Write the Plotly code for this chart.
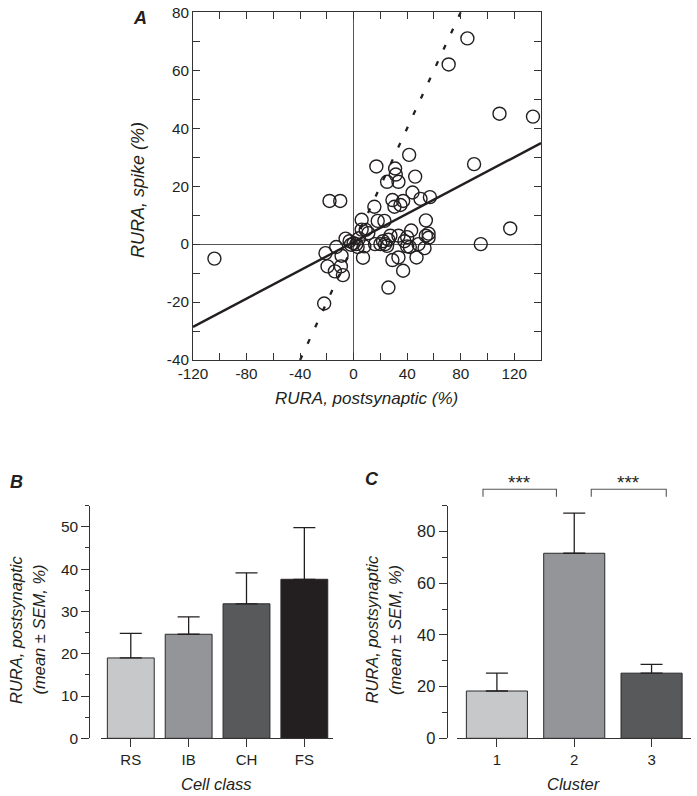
import plotly.graph_objects as go

# ---------------- Panel A data: RURA postsynaptic (%) vs RURA spike (%) ----------------
post_rura = [85, 71, 109, 134, 90, 95, 117, -104, 41.5, 17, 31, 46, 25, 33.5, 44, 50, 57,
             29, 37, 30.5, 15.5, -18, -10, 54, 18, 23, 6, 9, 11, 43, 56, 56, 27.5, 33.5,
             40, -6, 0, -2, 2, 8, 16, 20, 23.5, 25, 40, 48.5, 53, -13, -21, -9, 7, 33.5,
             29, 47, -19.5, -9.5, -14, -8, 37, 26, -22, 4, 6, -3, 3, 22, 26, 38, 42,
             31.5, 35, 54]
spike_rura = [71, 62, 45, 44, 27.6, 0, 5.4, -5, 30.8, 26.8, 26.1, 23.3, 21.5, 21.5, 17.8,
              15.6, 16.2, 15.2, 14.9, 12.9, 12.9, 14.9, 14.9, 8.2, 8, 8, 8.4, 4.9, 3.8,
              4.7, 3.6, 2.2, 2.9, 2.9, 2.4, 1.9, 0.3, -0.2, 0, -0.8, 0, 0, 0, -0.6, -0.8,
              0, -1.4, -1, -3.1, -4, -4.7, -4.6, -5.5, -4.6, -7.7, -7.7, -9.4, -10.7,
              -9.2, -15, -20.5, 2, 5, 1, -1, 1, 1.5, 1, -1, 24, 13.5, 2.9]
fit_slope = 0.244        # solid regression line
fit_intercept = 0.7
identity_slope = 1.0     # dashed line (y = x)
identity_intercept = 0.0
xa_ticks = [-120, -80, -40, 0, 40, 80, 120]
xa_ticktext = ["-120", "-80", "-40", "0", "40", "80", "120"]
ya_ticks = [-40, -20, 0, 20, 40, 60, 80]
ya_ticktext = ["-40", "-20", "0", "20", "40", "60", "80"]

# ---------------- Panel B data ----------------
cell_classes = ["RS", "IB", "CH", "FS"]
class_mean = [19.0, 24.6, 31.8, 37.6]
class_sem = [5.8, 4.1, 7.3, 12.2]
class_colors = ["#c7c8ca", "#939598", "#58595b", "#231f20"]

# ---------------- Panel C data ----------------
clusters = ["1", "2", "3"]
cluster_mean = [18.3, 71.6, 25.2]
cluster_sem = [6.9, 15.5, 3.4]
cluster_colors = ["#c7c8ca", "#939598", "#58595b"]
sig_pairs = [(0, 1), (1, 2)]
sig_labels = ["***", "***"]
sig_offsets = [(-0.18, -0.23), (0.22, 0.19)]   # bracket insets (style)

FONT = "Liberation Sans, Arial, Helvetica, sans-serif"
INK = "#231f20"
AX = "#333333"

fig = go.Figure()

# ---- Panel A ----
xa_range = [-120, 140]
ya_range = [-40, 80]
fig.add_trace(go.Scatter(
    x=xa_range,
    y=[fit_slope * v + fit_intercept for v in xa_range],
    mode="lines", line=dict(color=INK, width=2.4),
    xaxis="x", yaxis="y", hoverinfo="skip"))
id_x = [ya_range[0], ya_range[1]]
fig.add_trace(go.Scatter(
    x=id_x,
    y=[identity_slope * v + identity_intercept for v in id_x],
    mode="lines", line=dict(color=INK, width=2.3, dash="5px,13px"),
    xaxis="x", yaxis="y", hoverinfo="skip"))
fig.add_trace(go.Scatter(
    x=post_rura, y=spike_rura, mode="markers",
    marker=dict(symbol="circle-open", size=13, color=INK, line=dict(width=1.4)),
    cliponaxis=False, xaxis="x", yaxis="y"))

# ---- Panel B ----
fig.add_trace(go.Bar(
    x=cell_classes, y=class_mean, width=0.81,
    marker=dict(color=class_colors, line=dict(color="#2a2a2a", width=1)),
    error_y=dict(type="data", array=class_sem, arrayminus=[0] * len(class_sem),
                 symmetric=False, color=INK, thickness=1.3, width=11),
    xaxis="x2", yaxis="y2"))

# ---- Panel C ----
fig.add_trace(go.Bar(
    x=clusters, y=cluster_mean, width=0.79,
    marker=dict(color=cluster_colors, line=dict(color="#2a2a2a", width=1)),
    error_y=dict(type="data", array=cluster_sem, arrayminus=[0] * len(cluster_sem),
                 symmetric=False, color=INK, thickness=1.3, width=11),
    xaxis="x3", yaxis="y3"))

shapes = []
annotations = []
for (i, j), lab, (o0, o1) in zip(sig_pairs, sig_labels, sig_offsets):
    x0, x1 = i + o0, j + o1
    shapes.append(dict(type="path", xref="x3", yref="y3 domain",
                       path=f"M {x0},1.0387 L {x0},1.0705 L {x1},1.0705 L {x1},1.0387",
                       line=dict(color="#555555", width=1.1)))
    annotations.append(dict(text=lab, xref="x3", yref="y3 domain", x=(x0 + x1) / 2,
                            y=1.0705, yanchor="bottom", xanchor="center", showarrow=False,
                            yshift=-6, font=dict(size=19, color=INK, family=FONT)))

def ann(text, x, y, size, angle=0):
    annotations.append(dict(text=text, xref="paper", yref="paper", x=x, y=y,
                            xanchor="center", yanchor="middle", showarrow=False,
                            textangle=angle, font=dict(size=size, color=INK, family=FONT)))

# panel letters
ann("<b><i>A</i></b>", 140 / 697, 1 - 17.5 / 796, 18)
ann("<b><i>B</i></b>", 16 / 697, 1 - 482 / 796, 18)
ann("<b><i>C</i></b>", 371.5 / 697, 1 - 479 / 796, 18)
# panel A titles
ann("<i>RURA, spike (%)</i>", 138 / 697, 1 - 190 / 796, 18, -90)
ann("<i>RURA, postsynaptic (%)</i>", 367 / 697, 1 - 398 / 796, 17)
# panel B titles
ann("<i>RURA, postsynaptic</i>", 16 / 697, 1 - 630 / 796, 16.5, -90)
ann("<i>(mean ± SEM, %)</i>", 38.5 / 697, 1 - 630 / 796, 16.5, -90)
ann("<i>Cell class</i>", 216.7 / 697, 1 - 784 / 796, 16.5)
# panel C titles
ann("<i>RURA, postsynaptic</i>", 371.5 / 697, 1 - 630 / 796, 16.5, -90)
ann("<i>(mean ± SEM, %)</i>", 395 / 697, 1 - 630 / 796, 16.5, -90)
ann("<i>Cluster</i>", 573.9 / 697, 1 - 784 / 796, 16.5)

common_line = dict(showline=True, linecolor=AX, linewidth=1, tickcolor=AX, tickwidth=1,
                   showgrid=False, automargin=False)

fig.update_layout(
    width=697, height=796, margin=dict(l=0, r=0, t=0, b=0, pad=0, autoexpand=False),
    paper_bgcolor="white", plot_bgcolor="white", showlegend=False,
    font=dict(family=FONT, size=14, color=INK),
    xaxis=dict(domain=[193 / 697, 541 / 697], range=xa_range, anchor="y",
               mirror="ticks", ticks="inside", ticklen=7,
               tickvals=xa_ticks, ticktext=xa_ticktext,
               minor=dict(dtick=20, tick0=0, ticks="inside", ticklen=7, tickcolor=AX),
               zeroline=True, zerolinecolor="#555555", zerolinewidth=1,
               tickfont=dict(size=15.3), **common_line),
    yaxis=dict(domain=[1 - 360 / 796, 1 - 12.3 / 796], range=ya_range, anchor="x",
               mirror="ticks", ticks="inside", ticklen=7,
               tickvals=ya_ticks, ticktext=ya_ticktext,
               minor=dict(dtick=10, tick0=0, ticks="inside", ticklen=7, tickcolor=AX),
               zeroline=True, zerolinecolor="#555555", zerolinewidth=1,
               tickfont=dict(size=15.3), **common_line),
    xaxis2=dict(domain=[100.7 / 697, 332.7 / 697], range=[-0.52, 3.49], anchor="y2",
                type="category", ticks="outside", ticklen=8, tickfont=dict(size=15),
                zeroline=False, **common_line),
    yaxis2=dict(domain=[1 - 738.3 / 796, 1 - 505.7 / 796], range=[0, 55], anchor="free",
                position=89.3 / 697, ticks="outside", ticklen=8, tick0=0, dtick=10,
                minor=dict(dtick=5, ticks="outside", ticklen=4, tickcolor=AX),
                tickfont=dict(size=15.5), zeroline=False, **common_line),
    xaxis3=dict(domain=[456.7 / 697, 691 / 697], range=[-0.52, 2.51], anchor="y3",
                type="category", ticks="outside", ticklen=8, tickfont=dict(size=15),
                zeroline=False, **common_line),
    yaxis3=dict(domain=[1 - 738.3 / 796, 1 - 505.7 / 796], range=[0, 90], anchor="free",
                position=446.7 / 697, ticks="outside", ticklen=8, tick0=0, dtick=20,
                minor=dict(dtick=10, ticks="outside", ticklen=5, tickcolor=AX),
                tickfont=dict(size=16.5), zeroline=False, **common_line),
    shapes=shapes, annotations=annotations,
)

fig.write_html("out.html", config={"displayModeBar": False},
               post_script="document.body.style.margin='0px';"
                           "document.body.style.overflow='hidden';")
